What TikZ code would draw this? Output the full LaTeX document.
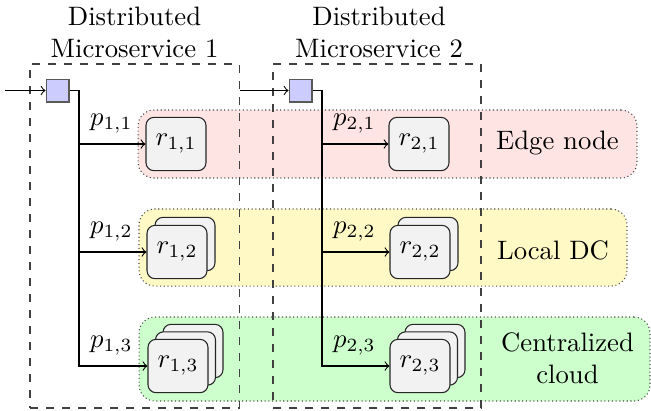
\documentclass[tikz,border=0pt]{standalone}
\usetikzlibrary{calc}
\definecolor{edgecol}{HTML}{FFE4E4}
\definecolor{localcol}{HTML}{FFF9C6}
\definecolor{cloudcol}{HTML}{CCFFCC}
\definecolor{dispcol}{HTML}{CCCCFF}
\definecolor{rcol}{HTML}{F2F2F2}
\begin{document}
\begin{tikzpicture}[x=0.375pt,y=-0.375pt,
  rbox/.style={draw=black!85, fill=rcol, rounded corners=3pt, minimum width=22.5pt, minimum height=20pt, inner sep=0pt},
  band/.style={draw=black!70, densely dotted, rounded corners=6pt, inner sep=0pt},
  msbox/.style={draw=black!75, dashed, inner sep=0pt},
  disp/.style={draw=black!65, fill=dispcol, minimum size=8.6pt, inner sep=0pt},
  plabel/.style={above right, inner sep=4pt},
  title/.style={align=center, inner sep=0pt}]
\useasboundingbox (0,0) rectangle (651,410);

% bands
\node[band, fill=edgecol, minimum width=187.1pt, minimum height=25.5pt] (b1) at (387.5,144) {};
\node[band, fill=localcol, minimum width=183pt, minimum height=28.9pt] (b2) at (383,247.5) {};
\node[band, fill=cloudcol, minimum width=191.6pt, minimum height=31.5pt] (b3) at (394.5,359) {};
\node (l1) at (557.5,143) {Edge node};
\node (l2) at (553,250) {Local DC};
\node[align=center] (l3) at (567.5,358) {Centralized\\cloud};

% microservice boxes
\node[msbox, minimum width=78.4pt, minimum height=129pt] (ms1) at (134.5,236) {};
\node[msbox, minimum width=78pt, minimum height=129pt] (ms2) at (377,236) {};
\node[title] (t1) at (134.5,32) {Distributed\\Microservice 1};
\node[title] (t2) at (379,32) {Distributed\\Microservice 2};

% dispatchers
\node[disp] (sq1) at (57.5,90.5) {};
\node[disp] (sq2) at (300.5,90.5) {};

% replicas column 1
\node[rbox] (r11) at (176,144) {$r_{1,1}$};
\node[rbox] (r12b) at (185,244) {};
\node[rbox] (r12) at (177,252) {$r_{1,2}$};
\node[rbox] (r13c) at (193,351) {};
\node[rbox] (r13b) at (185.5,358.5) {};
\node[rbox] (r13) at (178,366) {$r_{1,3}$};
% replicas column 2
\node[rbox] (r21) at (419,144) {$r_{2,1}$};
\node[rbox] (r22b) at (428,244) {};
\node[rbox] (r22) at (420,252) {$r_{2,2}$};
\node[rbox] (r23c) at (435,351) {};
\node[rbox] (r23b) at (427.5,358.5) {};
\node[rbox] (r23) at (420,366) {$r_{2,3}$};

% connectors
\coordinate (in1) at (5,90.5);
\coordinate (j1) at (79,0);
\coordinate (j2) at (322,0);
\draw[->] (in1) -- (sq1.west);
\draw[->] (sq1.east) -| (j1 |- r13.west) -- (r13.west);
\draw[->] (j1 |- r11.west) -- (r11.west) node[plabel, pos=0] {$p_{1,1}$};
\draw[->] (j1 |- r12.west) -- (r12.west) node[plabel, pos=0] {$p_{1,2}$};
\path (j1 |- r13.west) node[plabel] {$p_{1,3}$};
\draw[->] (ms1.east |- sq2.west) -- (sq2.west);
\draw[->] (sq2.east) -| (j2 |- r23.west) -- (r23.west);
\draw[->] (j2 |- r21.west) -- (r21.west) node[plabel, pos=0] {$p_{2,1}$};
\draw[->] (j2 |- r22.west) -- (r22.west) node[plabel, pos=0] {$p_{2,2}$};
\path (j2 |- r23.west) node[plabel] {$p_{2,3}$};
\end{tikzpicture}
\end{document}
